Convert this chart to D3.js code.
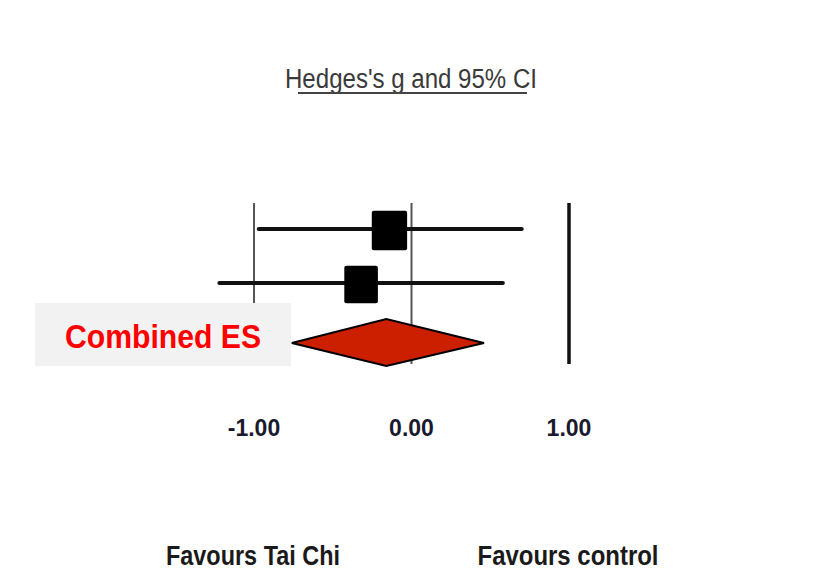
<!DOCTYPE html>
<html>
<head>
<meta charset="utf-8">
<script src="https://cdn.jsdelivr.net/npm/d3@7"></script>
<style>
  body { margin: 0; background: #fff; }
  svg { display: block; }
</style>
</head>
<body>
<svg></svg>
<script>
var width = 832;
var height = 582;

// forest plot data (Hedges's g and 95% CI)
var studies = ["Study 1", "Study 2"];
var effects = [-0.14, -0.32];
var lowers = [-0.97, -1.22];
var uppers = [0.70, 0.58];
var weights = [52, 47];

var combined = { es: -0.16, lower: -0.76, upper: 0.46 };

var tickValues = [-1, 0, 1];
var tickLabels = ["-1.00", "0.00", "1.00"];

var svg = d3.select("svg")
    .attr("width", width)
    .attr("height", height);

var x = d3.scaleLinear()
    .domain([-1, 1])
    .range([254, 569]);

// rows: two studies then the combined estimate (a bit more room before it)
var y = d3.scaleLinear()
    .domain([0, 1, 2])
    .range([229, 283, 343]);

var size = d3.scaleSqrt()
    .domain([0, 100])
    .range([0, 49]);

// title
svg.append("text")
    .attr("x", 411)
    .attr("y", 88)
    .attr("text-anchor", "middle")
    .attr("font-family", "Liberation Sans Narrow, Arial Narrow, sans-serif")
    .attr("font-size", 27)
    .attr("fill", "#3a3a3a")
    .attr("textLength", 252)
    .attr("lengthAdjust", "spacingAndGlyphs")
    .text("Hedges's g and 95% CI");

svg.append("line")
    .attr("x1", 298).attr("x2", 527)
    .attr("y1", 93).attr("y2", 93)
    .attr("stroke", "#444")
    .attr("stroke-width", 2);

// vertical reference lines
var ref = svg.append("g").attr("class", "ref");
ref.selectAll("line")
    .data(tickValues)
    .enter().append("line")
    .attr("x1", function(d) { return x(d); })
    .attr("x2", function(d) { return x(d); })
    .attr("y1", 203)
    .attr("y2", 364)
    .attr("stroke", function(d) { return d === 1 ? "#111" : "#555"; })
    .attr("stroke-width", function(d) { return d === 1 ? 3.5 : 2; });

// confidence interval lines
var rows = svg.append("g").attr("class", "rows");
rows.selectAll("line")
    .data(studies)
    .enter().append("line")
    .attr("x1", function(d, i) { return x(lowers[i]); })
    .attr("x2", function(d, i) { return x(uppers[i]); })
    .attr("y1", function(d, i) { return y(i); })
    .attr("y2", function(d, i) { return y(i); })
    .attr("stroke", "#111")
    .attr("stroke-width", 4)
    .attr("stroke-linecap", "round");

// study squares
rows.selectAll("rect")
    .data(studies)
    .enter().append("rect")
    .attr("x", function(d, i) { return x(effects[i]) - size(weights[i]) / 2; })
    .attr("y", function(d, i) { return y(i) + 1.5 - size(weights[i]) * 0.56; })
    .attr("width", function(d, i) { return size(weights[i]); })
    .attr("height", function(d, i) { return size(weights[i]) * 1.12; })
    .attr("rx", 2)
    .attr("fill", "#000");

// combined diamond
var yc = y(2);
svg.append("path")
    .attr("d", "M" + x(combined.lower) + "," + yc +
               " L" + x(combined.es) + "," + (yc - 24) +
               " L" + x(combined.upper) + "," + yc +
               " L" + x(combined.es) + "," + (yc + 23) + " Z")
    .attr("fill", "#cc1f00")
    .attr("stroke", "#000")
    .attr("stroke-width", 2);

// tick labels
svg.append("g").selectAll("text")
    .data(tickValues)
    .enter().append("text")
    .attr("x", function(d) { return x(d); })
    .attr("y", 436)
    .attr("text-anchor", "middle")
    .attr("font-family", "Liberation Sans, Arial, sans-serif")
    .attr("font-weight", "bold")
    .attr("font-size", 23)
    .attr("fill", "#1a1a2e")
    .text(function(d, i) { return tickLabels[i]; });

// favours labels
var favours = [
    { label: "Favours Tai Chi", x: 253, w: 174 },
    { label: "Favours control", x: 568, w: 181 }
];
svg.append("g").selectAll("text")
    .data(favours)
    .enter().append("text")
    .attr("x", function(d) { return d.x; })
    .attr("y", 565)
    .attr("text-anchor", "middle")
    .attr("font-family", "Liberation Sans Narrow, Arial Narrow, sans-serif")
    .attr("font-weight", "bold")
    .attr("font-size", 27)
    .attr("fill", "#1a1a1a")
    .attr("textLength", function(d) { return d.w; })
    .attr("lengthAdjust", "spacingAndGlyphs")
    .text(function(d) { return d.label; });

// "Combined ES" callout box
svg.append("rect")
    .attr("x", 35)
    .attr("y", 303)
    .attr("width", 256)
    .attr("height", 63)
    .attr("fill", "#f2f2f2");

svg.append("text")
    .attr("x", 163)
    .attr("y", 348)
    .attr("text-anchor", "middle")
    .attr("font-family", "Liberation Sans, Arial, sans-serif")
    .attr("font-weight", "bold")
    .attr("font-size", 33)
    .attr("fill", "#ff0000")
    .attr("textLength", 196)
    .attr("lengthAdjust", "spacingAndGlyphs")
    .text("Combined ES");
</script>
</body>
</html>
